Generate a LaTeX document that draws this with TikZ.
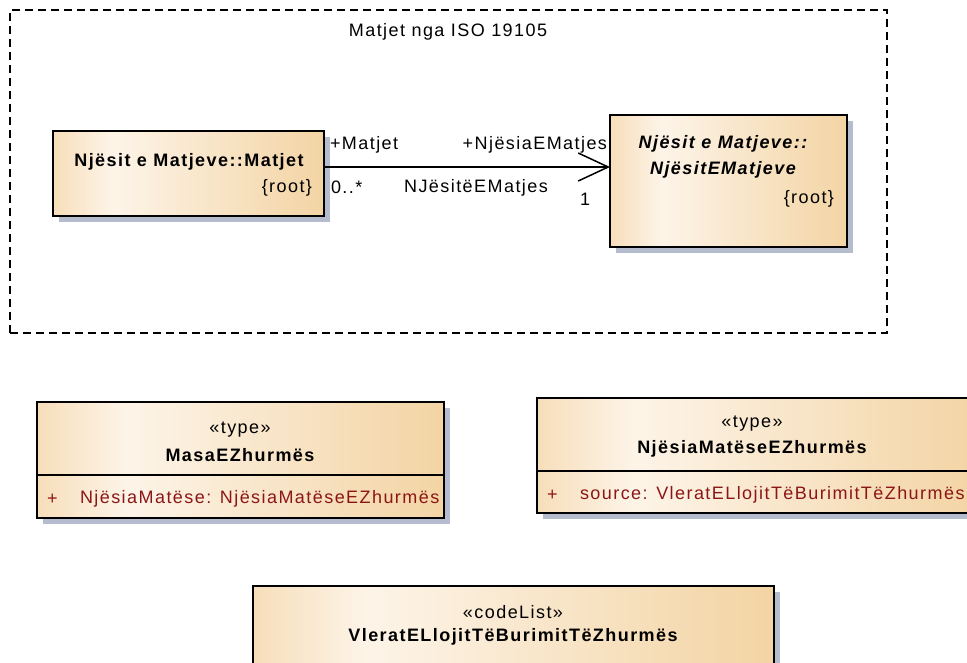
\documentclass[tikz,border=0pt]{standalone}
\usepackage{fontspec}
\setmainfont{Liberation Sans}[LetterSpace=8]
\usetikzlibrary{arrows.meta,shadows}
\definecolor{boxl}{RGB}{247,222,186}
\definecolor{boxm}{RGB}{253,244,232}
\definecolor{boxr}{RGB}{243,212,164}
\definecolor{shadowc}{RGB}{180,188,206}
\definecolor{attrc}{RGB}{140,22,22}
\pgfdeclarehorizontalshading{umlgrad}{100bp}{color(0bp)=(boxl); color(25bp)=(boxl); color(36bp)=(boxm); color(75bp)=(boxr); color(100bp)=(boxr)}
\begin{document}
\begin{tikzpicture}[x=1pt,y=-1pt,
  every node/.style={inner sep=0pt, outer sep=0pt, font=\fontsize{18}{26}\selectfont},
  umlbox/.style={draw=black, line width=1.4pt, shading=umlgrad, anchor=north west,
    general shadow={shadow xshift=6pt, shadow yshift=-6pt, fill=shadowc}},
  bold/.style={font=\fontsize{18}{26}\selectfont\bfseries},
  attr/.style={text=attrc, anchor=west},
  frame/.style={draw=black, line width=1.5pt, dash pattern=on 8pt off 5pt},
  assoc/.style={draw=black, line width=1.5pt, -{Straight Barb[length=30pt, width=28pt, line width=1.5pt]}}
]
\useasboundingbox (0,0) rectangle (967,662);
% package frame
\node[frame, anchor=north west, minimum width=877pt, minimum height=323pt] (pkg) at (10,10) {};
\node (pkgt) at (448,32) {Matjet nga ISO 19105};
% class boxes
\node[umlbox, minimum width=271pt, minimum height=85pt] (b1) at (53,131) {};
\node[bold] (b1n) at (189,162) {Njësit e Matjeve::Matjet};
\node[anchor=east] (b1r) at (312,188) {\{root\}};

\node[umlbox, minimum width=237pt, minimum height=132pt] (b2) at (610,115) {};
\node[bold, align=center] (b2n) at (723,157) {\itshape Njësit e Matjeve::\\\itshape NjësitEMatjeve};
\node[anchor=east] (b2r) at (834,199) {\{root\}};

\draw[assoc] (b1.east |- 0,167) -- (b2.west |- 0,167);
\node[anchor=west] (l1) at (330,145) {+Matjet};
\node[anchor=west] (l2) at (331,187) {0..*};
\node[anchor=east] (l3) at (607,145) {+NjësiaEMatjes};
\node (l4) at (476,188) {NJësitëEMatjes};
\node (l5) at (585,199) {1};

% MasaEZhurmës
\node[umlbox, minimum width=407pt, minimum height=116pt] (b3) at (37,402) {};
\draw[line width=1.4pt] (b3.west |- 0,475) -- (b3.east |- 0,475);
\node (b3s) at (240,430) {«type»};
\node[bold] (b3n) at (240,455) {MasaEZhurmës};
\node[attr] (b3p) at (47,499) {+};
\node[attr] (b3a) at (80,499) {NjësiaMatëse: NjësiaMatëseEZhurmës};

% NjësiaMatëseEZhurmës
\node[umlbox, minimum width=443pt, minimum height=115pt] (b4) at (537,398) {};
\draw[line width=1.4pt] (b4.west |- 0,471) -- (b4.east |- 0,471);
\node (b4s) at (752,424) {«type»};
\node[bold] (b4n) at (752,449) {NjësiaMatëseEZhurmës};
\node[attr] (b4p) at (547,495) {+};
\node[attr] (b4a) at (580,495) {source: VleratELlojitTëBurimitTëZhurmës};

% codeList
\node[umlbox, minimum width=521pt, minimum height=100pt] (b5) at (253,586) {};
\node (b5s) at (513,612) {«codeList»};
\node[bold] (b5n) at (513,637) {VleratELlojitTëBurimitTëZhurmës};
\end{tikzpicture}
\end{document}
